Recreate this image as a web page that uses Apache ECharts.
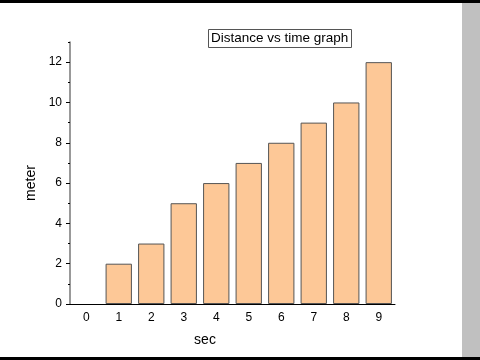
<!DOCTYPE html>
<html>
<head>
<meta charset="utf-8">
<script src="https://cdn.jsdelivr.net/npm/echarts@6/dist/echarts.min.js"></script>
<style>html,body{margin:0;padding:0;background:#fff}#c{width:480px;height:360px}</style>
</head>
<body>
<div id="c"></div>
<script>
const categories = ['0','1','2','3','4','5','6','7','8','9'];
const distance = [0, 2, 3, 5, 6, 7, 8, 9, 10, 12];
const yMajorTicks = [0, 2, 4, 6, 8, 10, 12];
const yMinorTicks = [1, 3, 5, 7, 9, 11, 13];

const chart = echarts.init(document.getElementById('c'), null, {renderer: 'canvas'});
const font = 'Liberation Sans, Arial, sans-serif';
chart.setOption({
  animation: false,
  backgroundColor: '#ffffff',
  title: {
    text: 'Distance vs time graph',
    left: 208, top: 29,
    padding: [2, 3, 3, 3],
    borderWidth: 1, borderColor: '#555',
    textStyle: {fontFamily: font, fontSize: 13.5, fontWeight: 'normal', color: '#000'}
  },
  grid: {left: 70, right: 85, top: 42, bottom: 56},
  xAxis: [{
    type: 'category', data: categories, boundaryGap: true,
    name: 'sec', nameLocation: 'middle', nameGap: 29,
    nameTextStyle: {fontFamily: font, fontSize: 14, color: '#000', padding: [0, 55, 0, 0]},
    axisLine: {lineStyle: {color: '#000', width: 1}},
    axisTick: {alignWithLabel: true, length: 4, lineStyle: {color: '#000'}},
    axisLabel: {fontFamily: font, fontSize: 12, color: '#000', margin: 8},
    splitLine: {show: false}
  }, {
    type: 'category', data: categories, boundaryGap: true, position: 'bottom',
    axisLine: {show: false},
    axisTick: {length: 2, lineStyle: {color: '#000'}},
    axisLabel: {show: false},
    splitLine: {show: false}
  }],
  yAxis: [{
    type: 'value', min: 0, max: 13,
    name: 'meter', nameLocation: 'middle', nameGap: 30, nameRotate: 90,
    nameTextStyle: {fontFamily: font, fontSize: 14, color: '#000', padding: [0, 20, 0, 0]},
    axisLine: {show: true, lineStyle: {color: '#777', width: 1.5}},
    axisTick: {show: true, length: 4, customValues: yMajorTicks, lineStyle: {color: '#000'}},
    axisLabel: {fontFamily: font, fontSize: 12, color: '#000', margin: 8, customValues: yMajorTicks},
    splitLine: {show: false}
  }, {
    type: 'value', min: 0, max: 13, position: 'left',
    axisLine: {show: false},
    axisTick: {show: true, length: 2, customValues: yMinorTicks, lineStyle: {color: '#000'}},
    axisLabel: {show: false},
    splitLine: {show: false}
  }],
  series: [{
    type: 'bar', xAxisIndex: 0, yAxisIndex: 0,
    data: distance.map(v => v === 0 ? {value: v, itemStyle: {borderWidth: 0}} : v),
    barCategoryGap: '19%',
    itemStyle: {color: '#fdc897', borderColor: '#555', borderWidth: 1}
  }],
  graphic: [
    {type: 'rect', shape: {x: 0, y: 0, width: 480, height: 3}, style: {fill: '#000'}, z: 100},
    {type: 'rect', shape: {x: 0, y: 357, width: 480, height: 3}, style: {fill: '#000'}, z: 100},
    {type: 'rect', shape: {x: 462, y: 3, width: 18, height: 354}, style: {fill: '#c0c0c0'}, z: 100}
  ]
});
</script>
</body>
</html>
